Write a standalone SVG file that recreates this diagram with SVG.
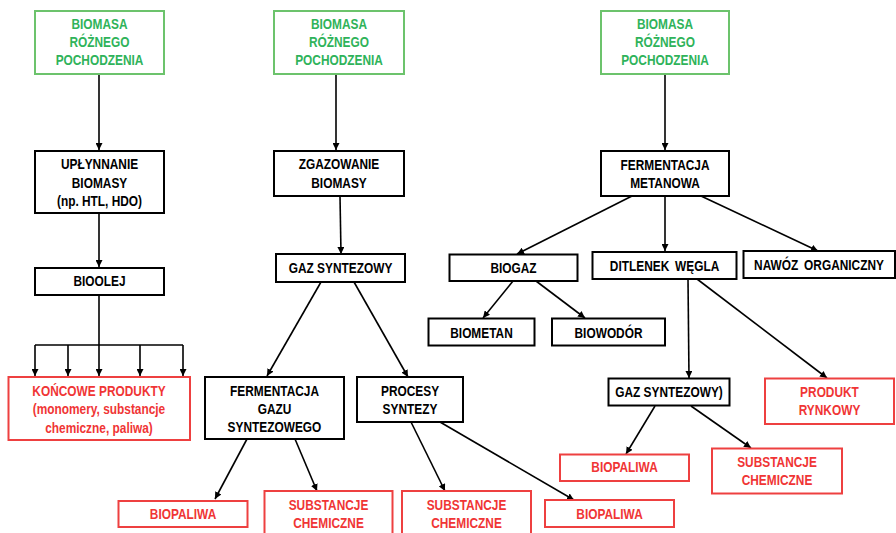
<svg xmlns="http://www.w3.org/2000/svg" width="896" height="533" viewBox="0 0 896 533">
  <defs>
    <marker id="arrow" markerUnits="userSpaceOnUse" markerWidth="7" markerHeight="7" refX="7" refY="3.5" orient="auto">
      <path d="M0,0 L7,3.5 L0,7 z" fill="#000"/>
    </marker>
    <style>
      text { font-family: "Liberation Sans", Arial, sans-serif; font-weight: bold; font-size: 14.5px; text-anchor: middle;
             transform-box: fill-box; transform-origin: center; transform: scaleX(0.82); }
      .src rect { fill: #fff; stroke: #6cc36c; stroke-width: 2; }
      .src text { fill: #2fb35a; }
      .step rect { fill: #fff; stroke: #000; stroke-width: 2; }
      .step text { fill: #000; }
      .out rect { fill: #fff; stroke: #ee4040; stroke-width: 2; }
      .out text { fill: #f03535; }
      #connectors line { stroke: #000; stroke-width: 1.6; fill: none; }
      .arr { marker-end: url(#arrow); }
    </style>
  </defs>
  <rect width="896" height="533" fill="#fff"/>

  <!-- connectors -->
  <g id="connectors">
    <!-- column 1 -->
    <line class="arr" x1="99" y1="74" x2="99" y2="150"/>
    <line class="arr" x1="99" y1="213" x2="99" y2="267"/>
    <line x1="99" y1="295" x2="99" y2="345"/>
    <line x1="35" y1="345" x2="183" y2="345"/>
    <line class="arr" x1="35" y1="345" x2="35" y2="376"/>
    <line class="arr" x1="68" y1="345" x2="68" y2="376"/>
    <line class="arr" x1="99" y1="345" x2="99" y2="376"/>
    <line class="arr" x1="140" y1="345" x2="140" y2="376"/>
    <line class="arr" x1="183" y1="345" x2="183" y2="376"/>
    <!-- column 2 -->
    <line class="arr" x1="336" y1="74" x2="336" y2="150"/>
    <line class="arr" x1="340" y1="196" x2="341" y2="254"/>
    <line class="arr" x1="321" y1="282" x2="267" y2="376"/>
    <line class="arr" x1="354" y1="282" x2="408" y2="377"/>
    <line class="arr" x1="247" y1="439" x2="215" y2="499"/>
    <line class="arr" x1="295" y1="439" x2="317" y2="491"/>
    <line class="arr" x1="411" y1="422" x2="445" y2="491"/>
    <line class="arr" x1="440" y1="422" x2="574" y2="500"/>
    <!-- column 3 -->
    <line class="arr" x1="665" y1="74" x2="665" y2="150"/>
    <line class="arr" x1="632" y1="196" x2="517" y2="254"/>
    <line class="arr" x1="665" y1="196" x2="665" y2="251"/>
    <line class="arr" x1="701" y1="196" x2="818" y2="251"/>
    <line class="arr" x1="513" y1="281" x2="483" y2="318"/>
    <line class="arr" x1="536" y1="281" x2="585" y2="318"/>
    <line class="arr" x1="688" y1="279" x2="689" y2="378"/>
    <line class="arr" x1="697" y1="279" x2="827" y2="378"/>
    <line class="arr" x1="655" y1="406" x2="626" y2="454"/>
    <line class="arr" x1="691" y1="406" x2="751" y2="448"/>
  </g>

  <!-- column 1: liquefaction -->
  <g id="src1" class="src">
    <rect x="35" y="11" width="129" height="63"/>
    <text x="99.5" y="29">BIOMASA</text>
    <text x="99.5" y="47">RÓŻNEGO</text>
    <text x="99.5" y="65">POCHODZENIA</text>
  </g>
  <g id="liquefaction" class="step">
    <rect x="35" y="151" width="129" height="62"/>
    <text x="99.5" y="169.5">UPŁYNNANIE</text>
    <text x="99.5" y="188">BIOMASY</text>
    <text x="99.5" y="206.5">(np. HTL, HDO)</text>
  </g>
  <g id="biooil" class="step">
    <rect x="35" y="268" width="129" height="27"/>
    <text x="99.5" y="286">BIOOLEJ</text>
  </g>
  <g id="end-products" class="out">
    <rect x="8.5" y="377" width="181.5" height="63"/>
    <text x="99" y="396">KOŃCOWE PRODUKTY</text>
    <text x="99" y="414.5">(monomery, substancje</text>
    <text x="99" y="433">chemiczne, paliwa)</text>
  </g>

  <!-- column 2: gasification -->
  <g id="src2" class="src">
    <rect x="274" y="11" width="130" height="63"/>
    <text x="339" y="29">BIOMASA</text>
    <text x="339" y="47">RÓŻNEGO</text>
    <text x="339" y="65">POCHODZENIA</text>
  </g>
  <g id="gasification" class="step">
    <rect x="274" y="151" width="130" height="45"/>
    <text x="339" y="169.5">ZGAZOWANIE</text>
    <text x="339" y="188">BIOMASY</text>
  </g>
  <g id="syngas" class="step">
    <rect x="276" y="254" width="129" height="28"/>
    <text x="340.5" y="273">GAZ SYNTEZOWY</text>
  </g>
  <g id="syngas-fermentation" class="step">
    <rect x="205" y="377" width="139" height="62"/>
    <text x="274.5" y="396">FERMENTACJA</text>
    <text x="274.5" y="414">GAZU</text>
    <text x="274.5" y="432">SYNTEZOWEGO</text>
  </g>
  <g id="synthesis" class="step">
    <rect x="357" y="377" width="106" height="45"/>
    <text x="410" y="396">PROCESY</text>
    <text x="410" y="414.5">SYNTEZY</text>
  </g>
  <g id="biofuels1" class="out">
    <rect x="118.5" y="501" width="129" height="26"/>
    <text x="183" y="519">BIOPALIWA</text>
  </g>
  <g id="chemicals1" class="out">
    <rect x="264.5" y="491" width="128" height="50"/>
    <text x="328.5" y="510">SUBSTANCJE</text>
    <text x="328.5" y="528">CHEMICZNE</text>
  </g>
  <g id="chemicals2" class="out">
    <rect x="402" y="491" width="129" height="50"/>
    <text x="466.5" y="510">SUBSTANCJE</text>
    <text x="466.5" y="528">CHEMICZNE</text>
  </g>
  <g id="biofuels2" class="out">
    <rect x="545" y="500" width="129" height="27"/>
    <text x="609.5" y="519">BIOPALIWA</text>
  </g>

  <!-- column 3: methane fermentation -->
  <g id="src3" class="src">
    <rect x="601" y="11" width="128" height="63"/>
    <text x="665" y="29">BIOMASA</text>
    <text x="665" y="47">RÓŻNEGO</text>
    <text x="665" y="65">POCHODZENIA</text>
  </g>
  <g id="methane-fermentation" class="step">
    <rect x="601" y="151" width="128" height="45"/>
    <text x="665" y="170">FERMENTACJA</text>
    <text x="665" y="188.5">METANOWA</text>
  </g>
  <g id="biogas" class="step">
    <rect x="449.5" y="254.5" width="128" height="26.5"/>
    <text x="513.5" y="273.5">BIOGAZ</text>
  </g>
  <g id="co2" class="step">
    <rect x="592.5" y="252" width="144" height="27"/>
    <text x="664.5" y="271" word-spacing="3">DITLENEK WĘGLA</text>
  </g>
  <g id="fertilizer" class="step">
    <rect x="743.5" y="251" width="151.5" height="27"/>
    <text x="819" y="270" word-spacing="3">NAWÓZ ORGANICZNY</text>
  </g>
  <g id="biomethane" class="step">
    <rect x="428.5" y="318.5" width="106" height="27"/>
    <text x="481.5" y="338">BIOMETAN</text>
  </g>
  <g id="biohydrogen" class="step">
    <rect x="552" y="318.5" width="113" height="27"/>
    <text x="608.5" y="338">BIOWODÓR</text>
  </g>
  <g id="syngas2" class="step">
    <rect x="608.5" y="378.5" width="121" height="27"/>
    <text x="669" y="397.5">GAZ SYNTEZOWY)</text>
  </g>
  <g id="market-product" class="out">
    <rect x="765" y="378.5" width="129" height="45.5"/>
    <text x="829.5" y="397.5">PRODUKT</text>
    <text x="829.5" y="415">RYNKOWY</text>
  </g>
  <g id="biofuels3" class="out">
    <rect x="560" y="454.5" width="129" height="26.5"/>
    <text x="624.5" y="472.5">BIOPALIWA</text>
  </g>
  <g id="chemicals3" class="out">
    <rect x="712" y="448.5" width="130" height="45"/>
    <text x="777" y="467">SUBSTANCJE</text>
    <text x="777" y="485">CHEMICZNE</text>
  </g>
</svg>
